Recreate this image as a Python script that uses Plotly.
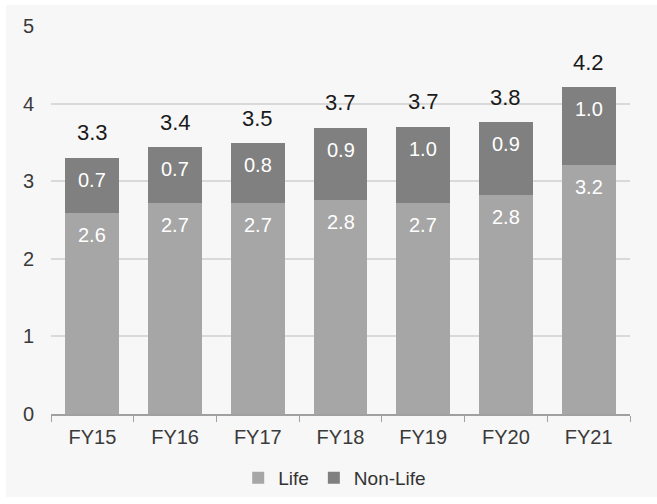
import plotly.graph_objects as go

# Premium by segment (stacked bars)
years = ["FY15", "FY16", "FY17", "FY18", "FY19", "FY20", "FY21"]
life = [2.59, 2.72, 2.72, 2.76, 2.72, 2.82, 3.21]
non_life = [0.71, 0.72, 0.77, 0.93, 0.98, 0.94, 1.00]
y_ticks = [0, 1, 2, 3, 4, 5]

LIFE_COLOR = "#a6a6a6"
NONLIFE_COLOR = "#808080"
BG = "#f7f7f7"
FONT = "Liberation Sans, Arial, sans-serif"

totals = [a + b for a, b in zip(life, non_life)]

fig = go.Figure()
fig.add_trace(go.Bar(x=years, y=life, name="Life", marker_color=LIFE_COLOR,
                     marker_line_width=0))
fig.add_trace(go.Bar(x=years, y=non_life, name="Non-Life", marker_color=NONLIFE_COLOR,
                     marker_line_width=0))

annotations = []
for yr, a, b, t in zip(years, life, non_life, totals):
    # segment values, near the top of each segment
    annotations.append(dict(x=yr, y=a, text=f"{a:.1f}", showarrow=False, yshift=-22,
                            font=dict(family=FONT, size=20, color="white")))
    annotations.append(dict(x=yr, y=t, text=f"{b:.1f}", showarrow=False, yshift=-22,
                            font=dict(family=FONT, size=20, color="white")))
    # stack total above each bar
    annotations.append(dict(x=yr, y=t, text=f"{t:.1f}", showarrow=False, yshift=25,
                            font=dict(family=FONT, size=22, color="#1a1a1a")))

fig.update_layout(
    width=657, height=504,
    margin=dict(l=51, r=27, t=26, b=90, autoexpand=False),
    paper_bgcolor="white",
    plot_bgcolor=BG,
    barmode="stack",
    bargap=0.35,
    font=dict(family=FONT, size=20, color="#3a3a3a"),
    annotations=annotations,
    showlegend=True,
    legend=dict(orientation="h", x=0.49, xanchor="center",
                yref="container", y=1 - 478 / 504, yanchor="middle",
                font=dict(family=FONT, size=19, color="#333333"),
                bgcolor="rgba(0,0,0,0)", itemwidth=30, traceorder="normal"),
    shapes=[dict(type="rect", xref="paper", yref="paper", layer="below",
                 x0=-45 / 579, x1=621 / 579, y0=(414 - 497) / 388, y1=(414 - 5) / 388,
                 fillcolor=BG, line_width=0)],
)

fig.update_xaxes(
    showgrid=False, showline=True, linecolor="#a0a0a0", linewidth=1.5,
    ticks="outside", tickson="boundaries", ticklen=6, tickcolor="#a0a0a0",
    ticklabelstandoff=4, automargin=False,
    tickfont=dict(family=FONT, size=20, color="#3a3a3a"),
)
fig.update_yaxes(
    range=[0, 5], tickvals=y_ticks, showgrid=True, gridcolor="#d9d9d9", gridwidth=1.5,
    zeroline=False, showline=False, ticks="", ticklabelstandoff=16, automargin=False,
    tickfont=dict(family=FONT, size=20, color="#3a3a3a"),
)

fig.write_html("out.html")
